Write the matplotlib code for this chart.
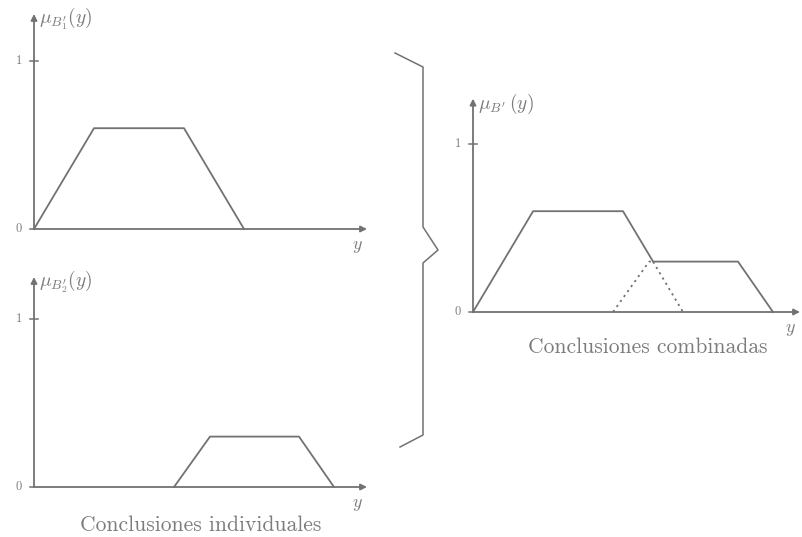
import numpy as np
import matplotlib
matplotlib.use("Agg")
import matplotlib.pyplot as plt

plt.rcParams['mathtext.fontset'] = 'cm'

# membership functions of the two individual conclusions (x breakpoints, height)
b1_x = [0, 60, 150, 210]
b1_h = 0.6
b2_x = [140, 176, 265, 300]
b2_h = 0.3

captions = ["Conclusiones individuales", "Conclusiones combinadas"]
ylabels = [r"$\mu_{B_1'}(y)$", r"$\mu_{B_2'}(y)$", r"$\mu_{B'}\,(y)$"]

W, H = 802, 537
ink = '#727272'
txt = '#7c7c7c'
fig = plt.figure(figsize=(W / 100, H / 100), dpi=100)

UNIT = 168  # pixels per membership unit


def panel(ox, oy, xlen, ytop, ylabel):
    # axes spanning the figure, origin placed at pixel (ox, oy) from top-left
    ax = fig.add_axes([0, 0, 1, 1])
    ax.set_xlim(-ox, W - ox)
    ax.set_ylim(-(H - oy) / UNIT, oy / UNIT)
    ax.axis('off')
    ax.patch.set_alpha(0)
    arrow = dict(arrowstyle='-|>', color=ink, lw=1.3, mutation_scale=9,
                 shrinkA=0, shrinkB=0)
    ax.annotate('', xy=(xlen, 0), xytext=(0, 0), arrowprops=arrow)
    ax.annotate('', xy=(0, ytop), xytext=(0, 0), arrowprops=arrow)
    ax.plot([-4, 4], [1, 1], color=ink, lw=1.1)
    ax.plot([-4, 0], [0, 0], color=ink, lw=1.1)
    ax.text(-12, 1, '1', fontsize=9, color=txt, ha='right', va='center',
            family='cmr10')
    ax.text(-12, 0, '0', fontsize=9, color=txt, ha='right', va='center',
            family='cmr10')
    ax.text(5, ytop - 0.03, ylabel, fontsize=14, color=txt, ha='left', va='center')
    ax.text(xlen - 10, -0.1, r'$y$', fontsize=13, color=txt, ha='center',
            va='center')
    return ax


def trap(xs, h):
    return [xs[0], xs[1], xs[2], xs[3]], [0, h, h, 0]


# individual conclusions
ax1 = panel(34, 229, 333, 1.28, ylabels[0])
ax1.plot(*trap(b1_x, b1_h), color=ink, lw=1.3)

ax2 = panel(34, 487, 333, 1.25, ylabels[1])
ax2.plot(*trap(b2_x, b2_h), color=ink, lw=1.3)
ax2.text(167, -0.23, captions[0], fontsize=15.5, color=txt, ha='center',
         va='center', family='cmr10')

# combined conclusion: pointwise maximum
ax3 = panel(473, 312, 327, 1.27, ylabels[2])
xx = np.linspace(0, b2_x[3], 3001)
m1 = np.interp(xx, *trap(b1_x, b1_h))
m2 = np.interp(xx, *trap(b2_x, b2_h))
comb = np.maximum(m1, m2)
ax3.plot(xx, comb, color=ink, lw=1.3)
dots = (0, (1.2, 2.2))
ax3.plot(xx, np.ma.masked_where((m1 >= comb) | (m1 <= 0), m1),
         color=ink, lw=1.3, ls=dots)
ax3.plot(xx, np.ma.masked_where((m2 >= comb) | (m2 <= 0), m2),
         color=ink, lw=1.3, ls=dots)
ax3.text(175, -0.21, captions[1], fontsize=15.5, color=txt, ha='center',
         va='center', family='cmr10')

# brace joining the two individual panels
ov = fig.add_axes([0, 0, 1, 1])
ov.set_xlim(0, W)
ov.set_ylim(H, 0)
ov.axis('off')
ov.patch.set_alpha(0)
bx, by = [395, 423, 423, 438, 423, 423, 400], [53, 67, 227, 250, 263, 435, 447]
ov.plot(bx, by, color=ink, lw=1.1)

fig.savefig('out.png', dpi=100)
